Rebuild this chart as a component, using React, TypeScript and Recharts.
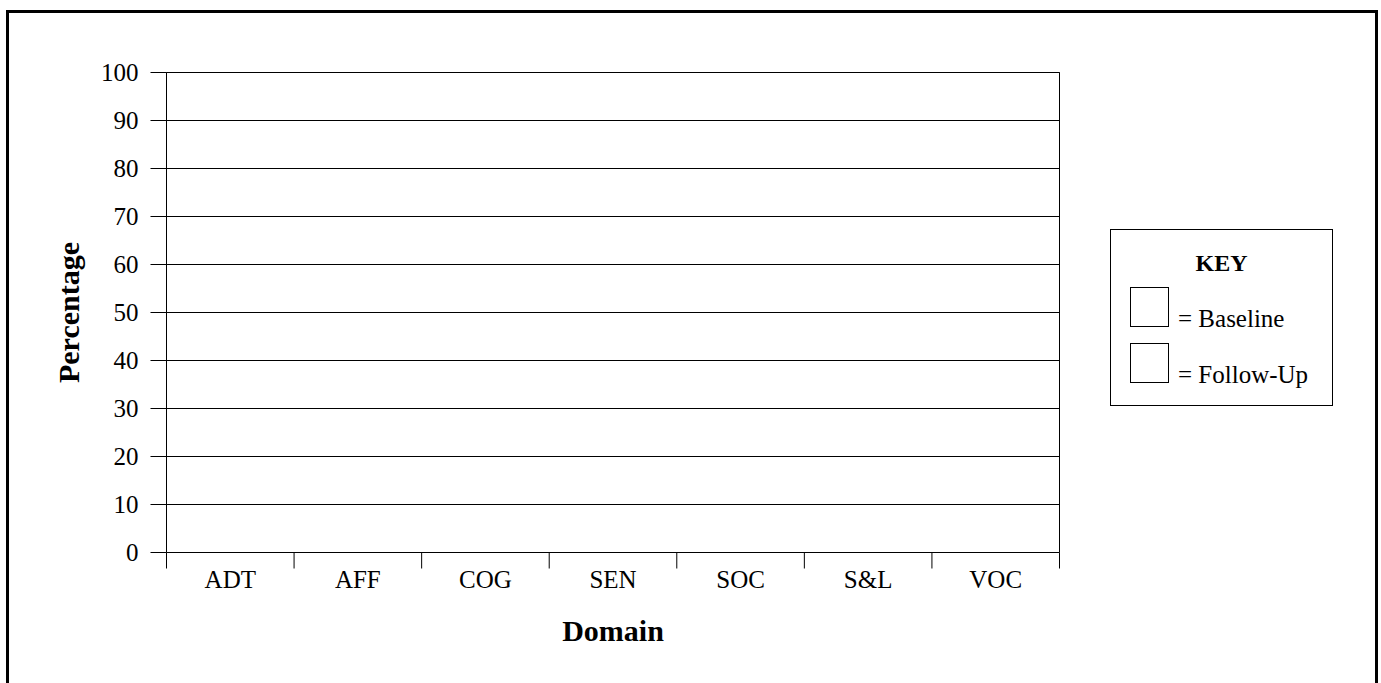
import { BarChart, Bar, XAxis, YAxis, CartesianGrid, Legend, Label } from 'recharts'

const domains = ['ADT', 'AFF', 'COG', 'SEN', 'SOC', 'S&L', 'VOC']
// the chart is an empty template: no bars are drawn
const baseline: (number | null)[] = [null, null, null, null, null, null, null]
const followUp: (number | null)[] = [null, null, null, null, null, null, null]
const yTicks = [0, 10, 20, 30, 40, 50, 60, 70, 80, 90, 100]
const seriesNames = ['Baseline', 'Follow-Up']

const data = domains.map((domain, i) => ({ domain, pos: i + 0.5, baseline: baseline[i], followUp: followUp[i] }))
const edgeTicks = [...domains.map((_, i) => i), domains.length]

const font = '"Liberation Serif", "Times New Roman", serif'

function KeyBox({ payload }: { payload?: Array<{ value: string }> }) {
  const items = payload?.length ? payload.map(p => p.value) : seriesNames
  return (
    <div style={{ position: 'relative', width: 223, height: 177, boxSizing: 'border-box', border: '1px solid #000', background: '#fff', fontFamily: font, color: '#000' }}>
      <div style={{ position: 'absolute', left: 0, right: 0, top: 20, textAlign: 'center', fontWeight: 'bold', fontSize: 24, lineHeight: '26px' }}>KEY</div>
      {items.map((name, i) => (
        <div key={name} style={{ position: 'absolute', left: 19, top: 57 + i * 56, height: 40, display: 'flex', alignItems: 'flex-end' }}>
          <div style={{ width: 39, height: 40, boxSizing: 'border-box', border: '1px solid #000' }} />
          <span style={{ marginLeft: 9, fontSize: 25, lineHeight: '25px', position: 'relative', top: 4 }}>= {name}</span>
        </div>
      ))}
    </div>
  )
}

export default function App() {
  return (
    <div style={{ position: 'absolute', left: 0, top: 0, width: 1381, height: 683, overflow: 'hidden', background: '#fff' }}>
      <div style={{ position: 'absolute', left: 6, top: 10, width: 1372, height: 720, boxSizing: 'border-box', border: '3px solid #000' }} />
      <BarChart width={1381} height={683} data={data} margin={{ top: 71.5, right: 320.5, bottom: 30.5, left: 0.5 }} style={{ fontFamily: font }}>
        <CartesianGrid xAxisId="b_cat" yAxisId="left" vertical={false} stroke="#000" horizontalValues={yTicks} />
        <XAxis xAxisId="a_edges" dataKey="pos" type="number" domain={[0, domains.length]} allowDataOverflow ticks={edgeTicks} height={1} tickSize={16} tickFormatter={() => ''} axisLine={false} stroke="#000" />
        <XAxis xAxisId="b_cat" dataKey="domain" height={99} tickLine={false} tickSize={6} tickMargin={11} axisLine={false} tick={{ fill: '#000', fontSize: 25 }}>
          <Label value="Domain" position="center" dy={27} style={{ fontWeight: 'bold', fontSize: 30, fill: '#000' }} />
        </XAxis>
        <XAxis xAxisId="top" dataKey="domain" orientation="top" height={1} tick={false} tickLine={false} axisLine={{ stroke: '#000' }} />
        <YAxis yAxisId="left" type="number" domain={[0, 100]} allowDataOverflow ticks={yTicks} width={166} tickSize={16} tickMargin={12} stroke="#000" tick={{ fill: '#000', fontSize: 25 }}>
          <Label value="Percentage" angle={-90} position="center" dx={-15} style={{ fontWeight: 'bold', fontSize: 30, fill: '#000', textAnchor: 'middle' }} />
        </YAxis>
        <YAxis yAxisId="right" orientation="right" type="number" domain={[0, 100]} allowDataOverflow width={1} tick={false} tickLine={false} axisLine={{ stroke: '#000' }} />
        <Legend layout="vertical" align="center" verticalAlign="middle" content={<KeyBox />} wrapperStyle={{ position: 'absolute', left: 1110, top: 229, width: 223, height: 177 }} />
        <Bar xAxisId="b_cat" yAxisId="left" dataKey="baseline" name={seriesNames[0]} fill="#fff" stroke="#000" isAnimationActive={false} />
        <Bar xAxisId="b_cat" yAxisId="left" dataKey="followUp" name={seriesNames[1]} fill="#fff" stroke="#000" isAnimationActive={false} />
      </BarChart>
    </div>
  )
}
